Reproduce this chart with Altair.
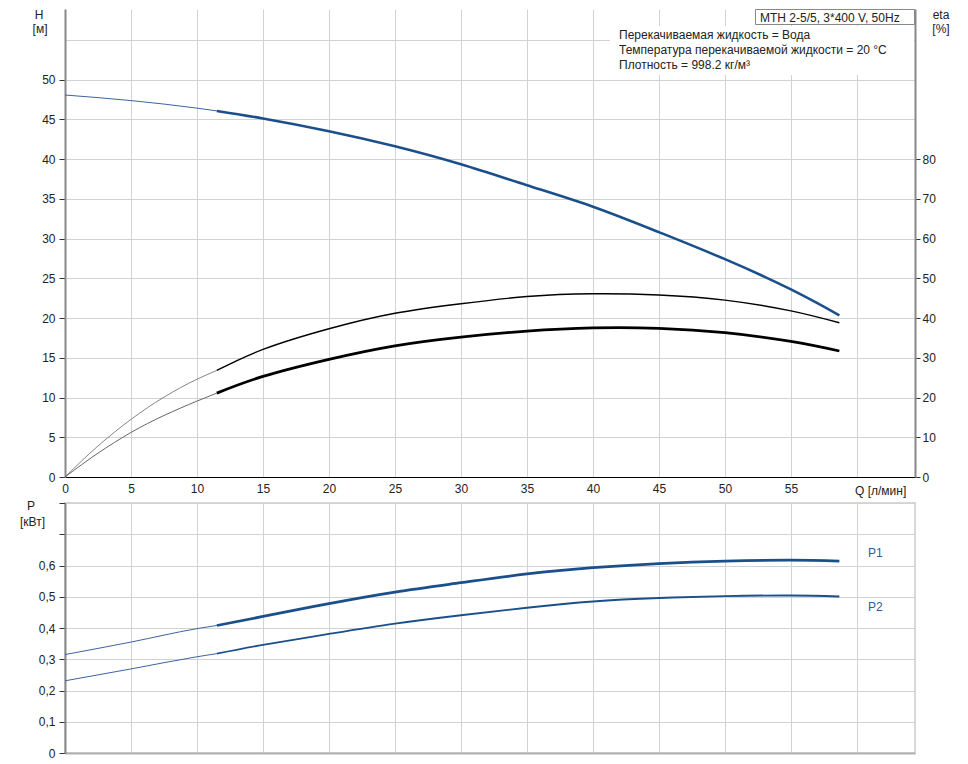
import altair as alt
import pandas as pd

# ---------------- data ----------------
Q_thin = [0, 5, 10, 11.5]
Q_thin_eta = [0, 2.5, 5, 10, 11.5]
Q_thick = [11.5, 15, 20, 25, 30, 35, 40, 45, 50, 55, 58.67]

H_thin = [48.05, 47.35, 46.4, 46.05]
H_thick = [46.05, 45.1, 43.5, 41.6, 39.33, 36.7, 34.0, 30.8, 27.4, 23.6, 20.34]

eta1_thin = [0, 7.8, 14.5, 24.6, 26.8]
eta1_thick = [26.8, 32.1, 37.3, 41.2, 43.6, 45.4, 46.1, 45.8, 44.5, 41.8, 38.8]
eta2_thin = [0, 6.0, 11.2, 19.1, 21.1]
eta2_thick = [21.1, 25.3, 29.6, 33.0, 35.2, 36.7, 37.5, 37.4, 36.3, 34.1, 31.7]

P1_thin = [0.315, 0.355, 0.398, 0.408]
P1_thick = [0.408, 0.437, 0.478, 0.515, 0.545, 0.573, 0.593, 0.606, 0.614, 0.617, 0.614]
P2_thin = [0.231, 0.269, 0.308, 0.318]
P2_thick = [0.318, 0.346, 0.381, 0.414, 0.441, 0.465, 0.485, 0.496, 0.502, 0.504, 0.501]

x_ticks = list(range(0, 61, 5))
h_ticks = list(range(0, 56, 5))
eta_ticks = list(range(0, 81, 10))
p_ticks = [0, 0.1, 0.2, 0.3, 0.4, 0.5, 0.6, 0.7, 0.8]

model_text = "MTH 2-5/5, 3*400 V, 50Hz"
info_lines = ["Перекачиваемая жидкость = Вода",
              "Температура перекачиваемой жидкости = 20 °C",
              "Плотность = 998.2 кг/м³"]

BLUE = "#1a4f8b"
BLUE_THIN = "#3d64a0"
FONT = "Liberation Sans"
TXT = "#222222"
GRID = "#d2d2d2"


def seg(qs, vs, key, color, width):
    return pd.DataFrame({"q": qs, "v": vs, "key": key, "color": color, "w": width})


h_thin_df = seg(Q_thin, H_thin, "h_thin", BLUE_THIN, 1.0)
h_thick_df = seg(Q_thick, H_thick, "h_thick", BLUE, 2.6)
eta_thin_df = pd.concat([
    seg(Q_thin_eta, eta1_thin, "e1_thin", "#777777", 0.9),
    seg(Q_thin_eta, eta2_thin, "e2_thin", "#666666", 1.0),
])
eta_thick_df = pd.concat([
    seg(Q_thick, eta1_thick, "e1_thick", "#000000", 1.4),
    seg(Q_thick, eta2_thick, "e2_thick", "#000000", 2.8),
])
p_thin_df = pd.concat([
    seg(Q_thin, P1_thin, "p1_thin", BLUE_THIN, 1.0),
    seg(Q_thin, P2_thin, "p2_thin", BLUE_THIN, 1.0),
])
p_thick_df = pd.concat([
    seg(Q_thick, P1_thick, "p1_thick", BLUE, 2.8),
    seg(Q_thick, P2_thick, "p2_thick", BLUE, 1.9),
])

W = 850
H_TOP = 468
H_BOT = 250
H_MAX = 58.87
x_scale = alt.Scale(domain=[0, 64.4], nice=False, zero=False)

x_axis_top = alt.Axis(values=x_ticks, labelExpr="datum.value == 60 ? '' : datum.label",
                      grid=True, gridColor=GRID, gridWidth=1, ticks=False,
                      labelPadding=6, labelFlush=False, labelOverlap=False,
                      domainColor="#000000", domainWidth=1,
                      labelFont=FONT, labelFontSize=12, labelColor=TXT, title=None)
h_axis = alt.Axis(values=h_ticks, labelExpr="datum.value > 52 ? '' : datum.label",
                  grid=True, gridColor=GRID, gridWidth=1,
                  tickSize=6, tickColor={"condition": {"test": "datum.value > 52", "value": "transparent"},
                                         "value": "#333333"},
                  labelPadding=4, domainColor="#888888", domainWidth=2,
                  labelFont=FONT, labelFontSize=12, labelColor=TXT, title=None)
eta_axis = alt.Axis(values=eta_ticks, orient="right", grid=False, tickSize=5, tickColor="#333333",
                    labelPadding=2, domainColor="#888888", domainWidth=2,
                    labelFont=FONT, labelFontSize=12, labelColor=TXT, title=None)


def lines(df, interp, x_axis=None, y_scale=None, y_axis=None):
    x_kw = {"scale": x_scale}
    if x_axis is not None:
        x_kw["axis"] = x_axis
    y_kw = {"scale": y_scale}
    if y_axis is not None:
        y_kw["axis"] = y_axis
    return alt.Chart(df).mark_line(interpolate=interp).encode(
        x=alt.X("q:Q", **x_kw),
        y=alt.Y("v:Q", **y_kw),
        detail="key:N",
        color=alt.Color("color:N", scale=None),
        strokeWidth=alt.StrokeWidth("w:Q", scale=None),
    )


h_scale = alt.Scale(domain=[0, H_MAX], nice=False)
eta_scale = alt.Scale(domain=[0, 2 * H_MAX], nice=False)
p_scale = alt.Scale(domain=[0, 0.8], nice=False)

h_group = alt.layer(
    lines(h_thin_df, "monotone", x_axis_top, h_scale, h_axis),
    lines(h_thick_df, "natural", x_axis_top, h_scale, h_axis),
)
eta_group = alt.layer(
    lines(eta_thin_df, "monotone", None, eta_scale, eta_axis),
    lines(eta_thick_df, "natural", None, eta_scale, eta_axis),
)


def label(text, x, y, align="center", color=TXT, size=12):
    return alt.Chart(pd.DataFrame({"t": [text]})).mark_text(
        align=align, baseline="middle", font=FONT, fontSize=size, color=color
    ).encode(text="t:N", x=alt.value(x), y=alt.value(y))


one = pd.DataFrame({"a": [0]})
white_box = alt.Chart(one).mark_rect(color="white").encode(
    x=alt.value(545), x2=alt.value(849), y=alt.value(17), y2=alt.value(66))
model_box = alt.Chart(one).mark_rect(fill="white", stroke="#888888", strokeWidth=1).encode(
    x=alt.value(690.5), x2=alt.value(849.5), y=alt.value(0.5), y2=alt.value(15.5))

top_layers = [h_group, eta_group, white_box, model_box,
              label(model_text, 695, 8.5, align="left"),
              label(info_lines[0], 554, 25.5, align="left"),
              label(info_lines[1], 554, 41, align="left"),
              label(info_lines[2], 554, 56, align="left"),
              label("H", -26, 6),
              label("[м]", -25, 20),
              label("eta", 876, 6),
              label("[%]", 876, 20),
              label("Q [л/мин]", 790, 482, align="left")]

top = alt.layer(*top_layers).resolve_scale(y="independent").properties(
    width=W, height=H_TOP, view=alt.ViewBackground(stroke="transparent"))

x_axis_bot = alt.Axis(values=x_ticks, labels=False, ticks=False, grid=True, gridColor=GRID,
                      gridWidth=1, domainColor="#b0b0b0", domainWidth=2, title=None)
p_axis = alt.Axis(values=p_ticks,
                  labelExpr="datum.value > 0.65 ? '' : (datum.value == 0 ? '0' : replace(format(datum.value, '.1f'), '.', ','))",
                  grid=True, gridColor=GRID, gridWidth=1, tickSize=6, tickColor="#333333",
                  labelPadding=4, domainColor="#888888", domainWidth=2,
                  labelFont=FONT, labelFontSize=12, labelColor=TXT, title=None)

bottom = alt.layer(
    lines(p_thin_df, "monotone", x_axis_bot, p_scale, p_axis),
    lines(p_thick_df, "natural", x_axis_bot, p_scale, p_axis),
    label("P", -34, 3),
    label("[кВт]", -45, 19, align="left"),
    label("P1", 803, 50, align="left", color="#2a5d9c"),
    label("P2", 803, 104, align="left", color="#2a5d9c"),
).properties(width=W, height=H_BOT,
             view=alt.ViewBackground(stroke="#d8d8d8", strokeWidth=2))

chart = alt.vconcat(top, bottom, spacing=26, bounds="flush").properties(
    padding={"left": 11, "top": 0, "right": 5, "bottom": 5},
    background="white",
)

chart.save("out.html", embed_options={"renderer": "svg", "actions": False})
